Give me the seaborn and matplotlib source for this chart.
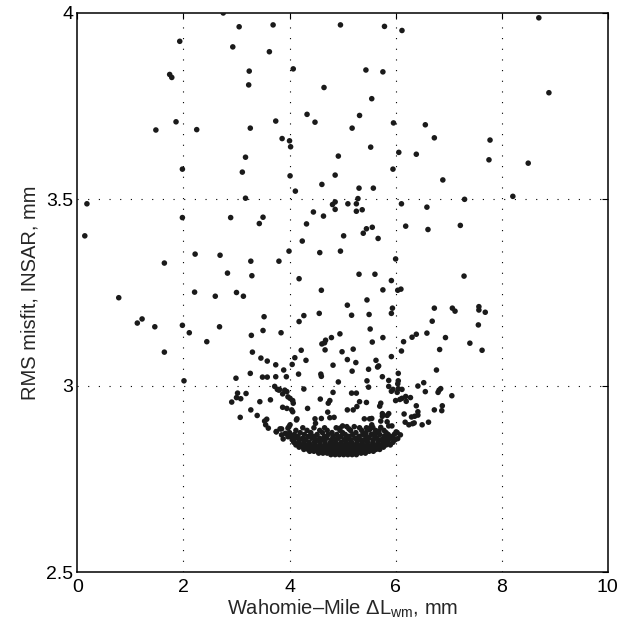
import pandas as pd
import matplotlib
matplotlib.use('Agg')
import matplotlib.pyplot as plt
import seaborn as sns

# sparse points, upper part (y > 3.5)
upper_x = [2.75, 3.05, 3.69, 4.96, 1.93, 2.93, 3.62, 1.74, 1.78, 3.24, 4.07, 3.23, 4.65, 4.33,
           4.48, 1.86, 1.48, 2.25, 3.26, 3.74, 3.86, 4.00, 4.02, 4.92, 3.17, 1.98, 3.11, 4.01,
           4.86, 4.61, 4.11, 3.17,
           5.79, 6.12, 8.70, 5.44, 5.76, 8.89, 5.55, 5.32, 5.18, 5.96, 6.56, 6.73, 7.78, 5.53,
           6.06, 6.39, 7.76, 8.50, 5.95, 6.89, 5.31, 5.58, 5.29, 7.30, 8.21]
upper_y = [4.000, 3.963, 3.968, 3.968, 3.924, 3.909, 3.896, 3.835, 3.827, 3.844, 3.850, 3.807,
           3.800, 3.728, 3.707, 3.708, 3.686, 3.687, 3.691, 3.710, 3.663, 3.657, 3.641, 3.616,
           3.613, 3.581, 3.573, 3.563, 3.565, 3.540, 3.522, 3.503,
           3.964, 3.953, 3.987, 3.847, 3.842, 3.786, 3.770, 3.725, 3.691, 3.705, 3.700, 3.665,
           3.659, 3.640, 3.626, 3.621, 3.606, 3.597, 3.581, 3.552, 3.530, 3.530, 3.502, 3.500,
           3.508]

# sparse points, middle part (3.0 - 3.5)
mid_x = [0.18, 0.14, 1.98, 2.89, 3.50, 3.43, 4.45, 4.64, 4.81, 4.86, 4.86, 5.10, 4.32, 5.02,
         4.24, 3.99, 4.57, 4.96, 2.22, 2.69, 1.64, 3.27, 3.80, 2.83, 3.29, 4.18, 4.60, 2.21,
         2.60, 3.00, 3.13, 0.78, 5.09, 4.56, 4.27, 4.18, 3.52, 1.13, 1.22, 1.46, 1.98, 2.68,
         2.11, 3.50, 3.28, 3.84, 2.44, 4.95, 4.79, 4.68, 4.66, 4.61, 1.64, 3.30, 4.67, 4.22,
         4.99, 3.46, 3.58, 4.10, 4.31, 5.09, 3.74, 4.05, 3.89, 4.82, 3.26, 4.17, 4.59, 4.60,
         2.99, 3.49, 3.58, 3.74, 3.94, 2.01, 4.92,
         5.26, 5.26, 5.37, 6.11, 6.59, 6.19, 6.61, 7.22, 5.45, 5.56, 5.39, 5.67, 6.00, 5.31,
         5.61, 7.29, 5.92, 5.76, 6.04, 6.10, 5.46, 5.17, 5.50, 5.94, 5.92, 6.73, 7.07, 7.12,
         7.57, 7.57, 7.69, 6.69, 7.56, 5.52, 5.76, 5.56, 6.31, 6.39, 6.59, 6.94, 6.15, 7.40,
         5.20, 6.11, 6.83, 7.63, 5.92, 5.25, 5.63, 5.68, 5.66, 5.18, 5.49, 6.77, 6.05, 5.75,
         5.87, 5.46, 6.05, 6.04, 6.53]
mid_y = [3.488, 3.402, 3.451, 3.451, 3.452, 3.435, 3.466, 3.455, 3.486, 3.493, 3.473, 3.488,
         3.434, 3.402, 3.388, 3.361, 3.357, 3.361, 3.353, 3.350, 3.329, 3.334, 3.334, 3.302,
         3.295, 3.287, 3.256, 3.251, 3.240, 3.250, 3.240, 3.236, 3.216, 3.194, 3.188, 3.172,
         3.185, 3.168, 3.179, 3.158, 3.162, 3.158, 3.142, 3.148, 3.135, 3.142, 3.118, 3.139,
         3.129, 3.122, 3.115, 3.112, 3.090, 3.090, 3.096, 3.095, 3.091, 3.074, 3.066, 3.075,
         3.068, 3.070, 3.056, 3.057, 3.042, 3.055, 3.033, 3.031, 3.031, 3.025, 3.020, 3.023,
         3.023, 3.024, 3.024, 3.013, 3.010,
         3.488, 3.468, 3.472, 3.488, 3.479, 3.428, 3.419, 3.430, 3.421, 3.425, 3.409, 3.395,
         3.340, 3.299, 3.299, 3.294, 3.282, 3.257, 3.256, 3.259, 3.230, 3.189, 3.191, 3.208,
         3.194, 3.208, 3.208, 3.200, 3.212, 3.203, 3.197, 3.173, 3.163, 3.152, 3.129, 3.117,
         3.130, 3.138, 3.141, 3.129, 3.118, 3.114, 3.098, 3.093, 3.097, 3.095, 3.078, 3.062,
         3.068, 3.053, 3.050, 3.039, 3.044, 3.042, 3.033, 3.024, 3.014, 3.013, 3.013, 3.005,
         3.008]

# sparse points around the bowl (2.86 - 3.0)
wing_x = [3.72, 3.77, 3.81, 4.27, 6.42, 5.49, 5.95, 6.05, 6.12, 6.85,
          3.80, 3.02, 3.18, 3.08, 2.91, 3.44, 3.64, 3.27, 3.39, 3.07, 3.53, 3.57, 3.55, 3.60,
          3.75, 3.82, 3.00, 3.91, 3.95, 3.87, 4.01, 4.07, 3.95, 4.04, 4.13, 3.99, 3.85, 3.97,
          3.97, 4.06, 3.87, 4.06, 4.82, 4.76, 4.73, 5.17, 5.26, 5.32, 4.58, 5.09, 5.20, 5.27,
          5.45, 4.34, 4.72, 4.76, 4.84, 4.48, 4.60, 4.49, 4.14, 4.01, 3.97, 3.75, 3.85, 5.41,
          5.51, 5.55, 5.45, 5.00, 5.08, 4.95, 5.12, 5.22,
          5.87, 5.92, 6.03, 6.82, 6.80, 6.56, 7.06, 5.72, 5.70, 5.75, 5.87, 5.84, 5.75, 6.00,
          6.08, 6.12, 6.19, 6.28, 6.20, 6.16, 6.39, 6.42, 6.36, 6.30, 6.42, 6.73, 6.87, 6.88,
          5.55, 5.72, 5.84, 5.87, 5.93, 5.72, 5.57, 5.68, 5.51, 5.60, 6.18, 6.25, 6.32, 6.35,
          6.50, 6.62, 5.98, 5.95, 5.87, 5.80, 6.04, 6.09, 6.01, 3.92, 3.88]
wing_y = [2.998, 2.990, 2.990, 2.991, 2.999, 2.996, 2.990, 2.992, 2.990, 2.992,
          2.988, 2.980, 2.979, 2.965, 2.956, 2.957, 2.962, 2.935, 2.920, 2.915, 2.905, 2.910,
          2.895, 2.886, 2.876, 2.884, 2.968, 2.988, 2.984, 2.978, 2.966, 2.953, 2.939, 2.935,
          2.908, 2.890, 2.868, 2.863, 2.970, 2.960, 2.942, 2.930, 2.982, 2.960, 2.953, 2.980,
          2.980, 2.957, 2.964, 2.935, 2.935, 2.944, 2.955, 2.939, 2.929, 2.914, 2.915, 2.911,
          2.912, 2.899, 2.911, 2.895, 2.886, 2.877, 2.884, 2.911, 2.911, 2.895, 2.887, 2.892,
          2.890, 2.886, 2.884, 2.890,
          2.998, 2.985, 2.982, 2.988, 2.982, 2.984, 2.973, 2.953, 2.945, 2.925, 2.925, 2.920,
          2.918, 2.960, 2.963, 2.966, 2.971, 2.968, 2.958, 2.924, 2.946, 2.930, 2.918, 2.916,
          2.921, 2.935, 2.933, 2.946, 2.912, 2.905, 2.903, 2.892, 2.892, 2.888, 2.888, 2.878,
          2.882, 2.872, 2.902, 2.895, 2.898, 2.900, 2.895, 2.902, 2.870, 2.860, 2.865, 2.860,
          2.858, 2.868, 2.876, 2.872, 2.857]

# dense bowl near the minimum, one row per misfit level
core_levels = [2.815, 2.819, 2.824, 2.829, 2.835, 2.841, 2.848, 2.855, 2.859, 2.864,
               2.869, 2.874, 2.880, 2.887]
core_rows = [
    [4.78, 4.86, 4.94, 5.02, 5.10, 5.18, 5.26],
    [4.55, 4.63, 4.71, 4.79, 4.87, 4.95, 5.03, 5.11, 5.19, 5.27, 5.35, 5.43],
    [4.38, 4.46, 4.54, 4.62, 4.70, 4.78, 4.86, 4.94, 5.02, 5.10, 5.18, 5.26, 5.34, 5.42, 5.50, 5.58],
    [4.27, 4.35, 4.43, 4.51, 4.59, 4.67, 4.75, 4.83, 4.91, 4.99, 5.07, 5.15, 5.23, 5.31, 5.39,
     5.47, 5.55, 5.63, 5.70],
    [4.18, 4.26, 4.34, 4.42, 4.50, 4.58, 4.66, 4.74, 4.82, 4.90, 4.98, 5.06, 5.14, 5.22, 5.30,
     5.38, 5.46, 5.54, 5.62, 5.70, 5.77],
    [4.12, 4.21, 4.30, 4.39, 4.48, 4.57, 4.66, 4.75, 4.84, 4.93, 5.02, 5.11, 5.20, 5.29, 5.38,
     5.47, 5.56, 5.65, 5.74, 5.82, 5.90],
    [4.08, 4.17, 4.27, 4.37, 4.47, 4.57, 4.67, 4.77, 4.87, 4.97, 5.07, 5.17, 5.27, 5.37, 5.47,
     5.57, 5.67, 5.77, 5.86, 5.95],
    [4.05, 4.19, 4.31, 4.50, 4.62, 4.79, 4.86, 5.03, 5.15, 5.34, 5.41, 5.58, 5.73, 5.82, 5.99],
    [4.11, 4.25, 4.42, 4.57, 4.70, 4.92, 5.08, 5.23, 5.29, 5.50, 5.65, 5.90],
    [4.02, 4.16, 4.36, 4.45, 4.66, 4.82, 4.97, 5.12, 5.31, 5.45, 5.61, 5.78, 5.94],
    [4.09, 4.28, 4.52, 4.73, 4.89, 5.05, 5.19, 5.38, 5.54, 5.70, 5.86],
    [4.00, 4.20, 4.40, 4.62, 4.80, 5.00, 5.25, 5.44, 5.64, 5.82, 6.03],
    [4.12, 4.33, 4.57, 4.71, 4.95, 5.15, 5.36, 5.62, 5.78],
    [4.25, 4.46, 4.66, 4.88, 5.32, 5.52],
]

core_x = [x for row in core_rows for x in row]
core_y = [lev for lev, row in zip(core_levels, core_rows) for _ in row]

df = pd.DataFrame({
    'dL': upper_x + mid_x + wing_x + core_x,
    'rms': upper_y + mid_y + wing_y + core_y,
})

sns.set_style('white')
plt.rcParams['font.family'] = ['Liberation Sans', 'DejaVu Sans']
plt.rcParams['mathtext.fontset'] = 'custom'
plt.rcParams['mathtext.rm'] = 'Liberation Sans'
plt.rcParams['mathtext.it'] = 'Liberation Sans'

fig = plt.figure(figsize=(6.24, 6.36), dpi=100)
ax = fig.add_axes([0.124, 0.1006, 0.850, 0.879])

# dotted grid
for v in [2, 4, 6, 8]:
    ax.axvline(v, color='black', lw=0.8, ls=(0, (1, 8.6)), zorder=0)
for v in [3, 3.5]:
    ax.axhline(v, color='black', lw=0.8, ls=(0, (1, 8.6)), zorder=0)

sns.scatterplot(data=df, x='dL', y='rms', s=16, color='#1a1a1a', edgecolor='none',
                linewidth=0, legend=False, ax=ax, zorder=3)

ax.set_xlim(0, 10)
ax.set_ylim(2.5, 4)
ax.set_xticks([0, 2, 4, 6, 8, 10])
ax.set_yticks([2.5, 3, 3.5, 4])
ax.set_yticklabels(['2.5', '3', '3.5', '4'])
ax.tick_params(direction='in', length=4, width=0.8, top=True, right=True,
               labelsize=14, colors='black')
ax.tick_params(axis='x', pad=5)
ax.tick_params(axis='y', pad=3)
for sp in ax.spines.values():
    sp.set_color('black')
    sp.set_linewidth(1.1)

ax.set_xlabel('Wahomie\u2013Mile \u0394L$_{\\mathrm{wm}}$, mm', fontsize=14.5, labelpad=1)
ax.set_ylabel('RMS misfit, INSAR, mm', fontsize=14.5, labelpad=5)

fig.savefig('out.png', dpi=100)
